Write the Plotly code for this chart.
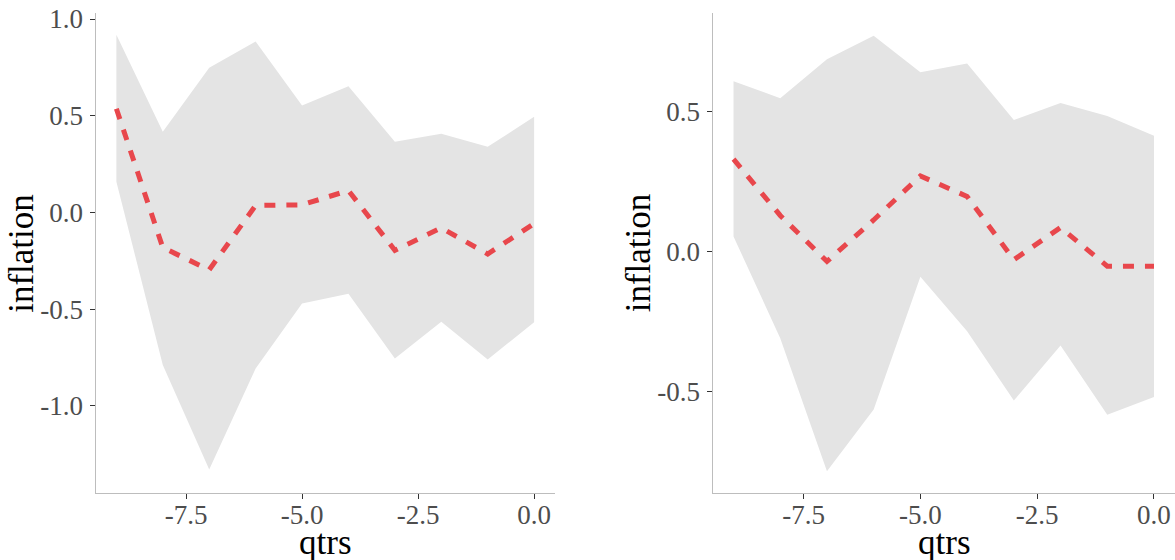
import plotly.graph_objects as go

qtrs = [-9, -8, -7, -6, -5, -4, -3, -2, -1, 0]

left_mean = [0.536, -0.182, -0.297, 0.036, 0.039, 0.113, -0.196, -0.080, -0.215, -0.058]
left_upper = [0.918, 0.417, 0.748, 0.883, 0.553, 0.652, 0.365, 0.406, 0.339, 0.494]
left_lower = [0.159, -0.789, -1.330, -0.807, -0.471, -0.421, -0.756, -0.565, -0.761, -0.568]

right_mean = [0.331, 0.130, -0.034, 0.114, 0.271, 0.198, -0.028, 0.087, -0.051, -0.051]
right_upper = [0.609, 0.549, 0.688, 0.772, 0.641, 0.673, 0.471, 0.532, 0.485, 0.415]
right_lower = [0.055, -0.308, -0.783, -0.563, -0.089, -0.283, -0.531, -0.334, -0.582, -0.518]

x_ticks = [-7.5, -5.0, -2.5, 0.0]
x_tick_text = ["-7.5", "-5.0", "-2.5", "0.0"]
left_y_ticks = [-1.0, -0.5, 0.0, 0.5, 1.0]
left_y_text = ["-1.0", "-0.5", "0.0", "0.5", "1.0"]
right_y_ticks = [-0.5, 0.0, 0.5]
right_y_text = ["-0.5", "0.0", "0.5"]

x_title = "qtrs"
y_title = "inflation"

BAND = "#e4e4e4"
LINE = "#e8474c"
FONT = "Liberation Serif"

fig = go.Figure()


def add_panel(mean, upper, lower, xa, ya):
    fig.add_trace(go.Scatter(x=qtrs, y=upper, mode="lines", line=dict(width=0, color=BAND),
                             showlegend=False, hoverinfo="skip", xaxis=xa, yaxis=ya))
    fig.add_trace(go.Scatter(x=qtrs, y=lower, mode="lines", line=dict(width=0, color=BAND),
                             fill="tonexty", fillcolor=BAND, showlegend=False,
                             hoverinfo="skip", xaxis=xa, yaxis=ya))
    fig.add_trace(go.Scatter(x=qtrs, y=mean, mode="lines",
                             line=dict(width=5, color=LINE, dash="11px,11px"),
                             showlegend=False, xaxis=xa, yaxis=ya))


add_panel(left_mean, left_upper, left_lower, "x", "y")
add_panel(right_mean, right_upper, right_lower, "x2", "y2")

W, H = 1175, 560
ydom = [1 - 493 / H, 1 - 13 / H]

axis_common = dict(
    showgrid=False, zeroline=False, showline=True, linecolor="#bdbdbd", linewidth=1,
    ticks="outside", ticklen=5, tickwidth=1, tickcolor="#333333",
    tickfont=dict(family=FONT, size=27, color="#4d4d4d"),
    automargin=False,
)

fig.update_layout(
    width=W, height=H,
    margin=dict(l=0, r=0, t=0, b=0),
    paper_bgcolor="white", plot_bgcolor="white",
    font=dict(family=FONT),
    xaxis=dict(domain=[95.5 / W, 555 / W], range=[-9.45, 0.45], anchor="y",
               tickvals=x_ticks, ticktext=x_tick_text, ticklabelstandoff=-7,
               **axis_common),
    yaxis=dict(domain=ydom, range=[-1.451, 1.031], anchor="x",
               tickvals=left_y_ticks, ticktext=left_y_text, ticklabelstandoff=1,
               **axis_common),
    xaxis2=dict(domain=[712.5 / W, 1.0], range=[-9.45, 0.45], anchor="y2",
                tickvals=x_ticks, ticktext=x_tick_text, ticklabelstandoff=-7,
                **axis_common),
    yaxis2=dict(domain=ydom, range=[-0.861, 0.853], anchor="x2",
                tickvals=right_y_ticks, ticktext=right_y_text, ticklabelstandoff=1,
                **axis_common),
)

title_font = dict(family=FONT, size=35, color="black")
for xc in (325.3, 944.0):
    fig.add_annotation(text=x_title, xref="paper", yref="paper", x=xc / W, y=1 - 542 / H,
                       xanchor="center", yanchor="middle", showarrow=False, font=title_font)
for xc in (21.5, 638.0):
    fig.add_annotation(text=y_title, xref="paper", yref="paper", x=xc / W, y=1 - 253.3 / H,
                       xanchor="center", yanchor="middle", textangle=-90, showarrow=False,
                       font=title_font)

fig.write_html("out.html", config={"displayModeBar": False},
               post_script="document.body.style.margin='0';")
